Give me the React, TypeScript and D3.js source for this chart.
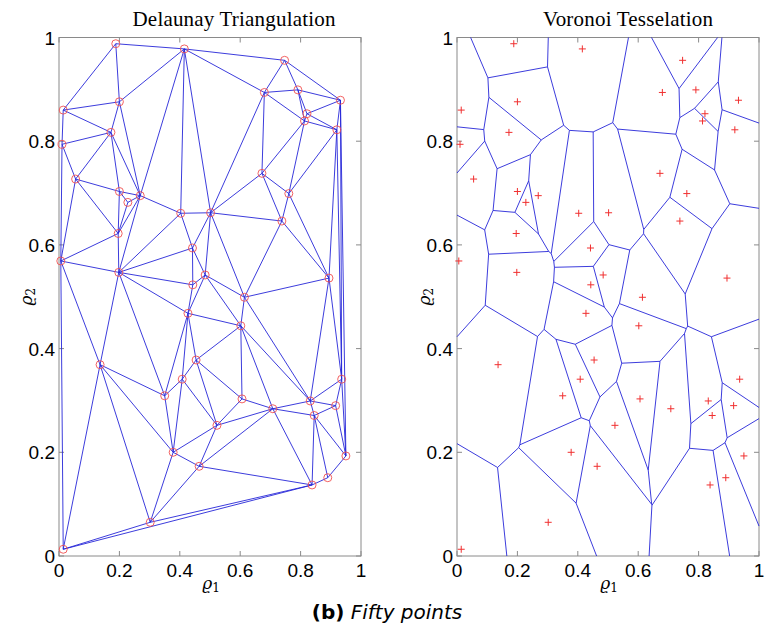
import React from "react";
import * as d3 from "d3";

const WIDTH = 769;
const HEIGHT = 632;
const TOP = 37.5;
const BOTTOM = 556;
const LEFT_PANEL = [59, 361];
const RIGHT_PANEL = [457, 759];

// the fifty points (rho1, rho2)
const rho1 = [
  0.188, 0.415, 0.747, 0.68, 0.791, 0.932, 0.014, 0.2, 0.821, 0.813,
  0.92, 0.172, 0.01, 0.055, 0.2, 0.228, 0.269, 0.672, 0.761, 0.403,
  0.502, 0.738, 0.196, 0.006, 0.442, 0.198, 0.484, 0.443, 0.894, 0.614,
  0.427, 0.602, 0.136, 0.454, 0.408, 0.35, 0.606, 0.708, 0.832, 0.916,
  0.936, 0.845, 0.523, 0.378, 0.464, 0.95, 0.89, 0.838, 0.302, 0.014
];
const rho2 = [
  0.988, 0.978, 0.956, 0.894, 0.899, 0.879, 0.86, 0.876, 0.853, 0.839,
  0.822, 0.817, 0.794, 0.727, 0.703, 0.682, 0.695, 0.738, 0.699, 0.661,
  0.662, 0.646, 0.622, 0.569, 0.594, 0.547, 0.542, 0.523, 0.536, 0.499,
  0.468, 0.444, 0.369, 0.378, 0.341, 0.309, 0.303, 0.284, 0.299, 0.29,
  0.341, 0.271, 0.252, 0.2, 0.173, 0.193, 0.151, 0.137, 0.065, 0.013
];
const tickValues = [0, 0.2, 0.4, 0.6, 0.8, 1];

const points: [number, number][] = rho1.map((v, i) => [v, rho2[i]]);
const delaunay = d3.Delaunay.from(points);
const voronoi = delaunay.voronoi([0, 0, 1, 1]);

// render d3-delaunay output in data space, mapped through the scales
const mappedPath = (sx, sy, draw) => {
  let s = "";
  const ctx = {
    moveTo: (x, y) => { s += `M${sx(x)},${sy(y)}`; },
    lineTo: (x, y) => { s += `L${sx(x)},${sy(y)}`; },
    closePath: () => { s += "Z"; }
  };
  draw(ctx);
  return s;
};

const TICK_FONT = "'Liberation Sans', Arial, sans-serif";
const SERIF = "'DejaVu Serif', 'Liberation Serif', serif";

const Panel = ({ range, title, titleX, titleLen, kind }) => {
  const x = d3.scaleLinear().domain([0, 1]).range(range);
  const y = d3.scaleLinear().domain([0, 1]).range([BOTTOM, TOP]);
  const fmt = (t) => String(+t.toFixed(1));

  const linePath =
    kind === "delaunay"
      ? mappedPath(x, y, (c) => delaunay.render(c))
      : mappedPath(x, y, (c) => voronoi.render(c));

  return (
    <g>
      <rect x={range[0]} y={TOP} width={range[1] - range[0]} height={BOTTOM - TOP} fill="#fff" stroke="#8a8a8a" strokeWidth={1} />
      {tickValues.map((t) => (
        <g key={"x" + t}>
          <line x1={x(t)} x2={x(t)} y1={BOTTOM} y2={BOTTOM - 5} stroke="#8a8a8a" />
          <line x1={x(t)} x2={x(t)} y1={TOP} y2={TOP + 5} stroke="#8a8a8a" />
          <text x={x(t)} y={577} textAnchor="middle" fontFamily={TICK_FONT} fontSize={19} fill="#000">
            {fmt(t)}
          </text>
        </g>
      ))}
      {tickValues.map((t) => (
        <g key={"y" + t}>
          <line x1={range[0]} x2={range[0] + 5} y1={y(t)} y2={y(t)} stroke="#8a8a8a" />
          <line x1={range[1]} x2={range[1] - 5} y1={y(t)} y2={y(t)} stroke="#8a8a8a" />
          <text x={range[0] - 4} y={y(t) + 7} textAnchor="end" fontFamily={TICK_FONT} fontSize={19} fill="#000">
            {fmt(t)}
          </text>
        </g>
      ))}
      <path d={linePath} fill="none" stroke="#2626d8" strokeWidth={0.9} />
      {kind === "delaunay"
        ? points.map((p, i) => (
            <circle key={i} cx={x(p[0])} cy={y(p[1])} r={4} fill="none" stroke="#f05050" strokeWidth={0.9} />
          ))
        : points.map((p, i) => (
            <path
              key={i}
              d={`M${x(p[0]) - 3.5},${y(p[1])}h7M${x(p[0])},${y(p[1]) - 3.5}v7`}
              stroke="#f03030"
              strokeWidth={1}
            />
          ))}
      <text
        x={titleX}
        y={26}
        textAnchor="middle"
        fontFamily="'Liberation Serif', serif"
        fontSize={21}
        textLength={titleLen}
        lengthAdjust="spacing"
      >
        {title}
      </text>
      <text x={(range[0] + range[1]) / 2 + 1} y={589} textAnchor="middle" fontFamily={SERIF} fontStyle="italic" fontSize={17}>
        ϱ<tspan fontSize={12} dy={3} fontStyle="normal">1</tspan>
      </text>
      <text
        transform={`translate(${range[0] - 27},${(TOP + BOTTOM) / 2}) rotate(-90)`}
        textAnchor="middle"
        fontFamily={SERIF}
        fontStyle="italic"
        fontSize={17}
      >
        ϱ<tspan fontSize={12} dy={3} fontStyle="normal">2</tspan>
      </text>
    </g>
  );
};

const App = () => {
  return (
    <svg width={WIDTH} height={HEIGHT} style={{ position: "absolute", left: 0, top: 0, background: "#fff" }}>
      <Panel range={LEFT_PANEL} title="Delaunay Triangulation" titleX={234} titleLen={203} kind="delaunay" />
      <Panel range={RIGHT_PANEL} title="Voronoi Tesselation" titleX={628} titleLen={170} kind="voronoi" />
      <text x={387} y={619} textAnchor="middle" fontFamily="'DejaVu Sans', sans-serif" fontSize={20}>
        <tspan fontWeight="bold">(b)</tspan>
        <tspan fontStyle="italic"> Fifty points</tspan>
      </text>
    </svg>
  );
};

export default App;
